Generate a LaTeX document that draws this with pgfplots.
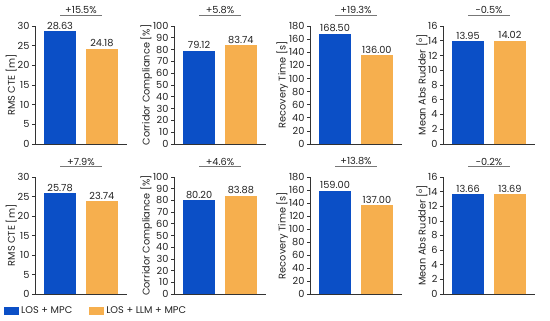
\documentclass[border=0pt]{standalone}
\usepackage{pgfplots}
\pgfplotsset{compat=1.18}
\usepackage{fontspec}
\setmainfont{Poppins}
\definecolor{cblue}{HTML}{0B4FC6}
\definecolor{corange}{HTML}{F6AF4E}
\definecolor{axc}{HTML}{333333}
\definecolor{txt}{HTML}{222222}
\definecolor{annc}{HTML}{777777}
\newcommand{\fs}{\fontsize{9.8}{11}\selectfont}
\pgfplotsset{
 panel/.style={
   scale only axis, width=92bp,
   xmin=-0.6, xmax=1.6, ymin=0,
   axis x line*=bottom, axis y line*=left,
   xtick=\empty,
   axis line style={axc, line width=0.6pt},
   ytick style={axc, line width=0.6pt},
   tick align=outside, major tick length=3bp,
   ybar, bar width=0.76,
   clip=false,
   tick label style={font=\fs, text=txt},
   yticklabel style={xshift=1bp},
   label style={font=\fs, text=txt},
   ylabel shift=-6bp,
   /pgf/number format/assume math mode=true,
   /pgf/number format/1000 sep={},
   nodes near coords={\pgfmathprintnumber[fixed,fixed zerofill,precision=2]{\pgfplotspointmeta}},
   nodes near coords style={font=\fs, text=txt, inner sep=1.5bp},
   anchor=south west,
 },
 toprow/.style={height=118bp},
 botrow/.style={height=117bp},
}
\tikzset{ann/.style={annc, line width=0.7pt}}
\newcommand{\annot}[1]{\draw[ann] (rel axis cs:0.2727,1.088) -- node[above, font=\fs, text=txt, inner sep=1.2bp] {#1} (rel axis cs:0.7273,1.088);}
\begin{document}
\begin{tikzpicture}
\useasboundingbox (0,0) rectangle (550bp,321bp);
% ---------- top row ----------
\begin{axis}[panel, toprow, at={(35bp,177bp)}, ymax=30, ytick={0,5,...,30}, ylabel={RMS CTE [m]}]
\addplot[fill=cblue, draw=none, bar shift=0pt] coordinates {(0,28.63)};
\addplot[fill=corange, draw=none, bar shift=0pt] coordinates {(1,24.18)};
\annot{+15.5\%}
\end{axis}
\begin{axis}[panel, toprow, at={(174bp,177bp)}, ymax=100, ytick={0,10,...,100}, ylabel={Corridor Compliance [\%]}]
\addplot[fill=cblue, draw=none, bar shift=0pt] coordinates {(0,79.12)};
\addplot[fill=corange, draw=none, bar shift=0pt] coordinates {(1,83.74)};
\annot{+5.8\%}
\end{axis}
\begin{axis}[panel, toprow, at={(310bp,177bp)}, ymax=180, ytick={0,20,...,180}, ylabel={Recovery Time [s]}]
\addplot[fill=cblue, draw=none, bar shift=0pt] coordinates {(0,168.50)};
\addplot[fill=corange, draw=none, bar shift=0pt] coordinates {(1,136.00)};
\annot{+19.3\%}
\end{axis}
\begin{axis}[panel, toprow, at={(443bp,177bp)}, ymax=16, ytick={0,2,...,16}, ylabel={Mean Abs Rudder [°]}]
\addplot[fill=cblue, draw=none, bar shift=0pt] coordinates {(0,13.95)};
\addplot[fill=corange, draw=none, bar shift=0pt] coordinates {(1,14.02)};
\annot{−0.5\%}
\end{axis}
% ---------- bottom row ----------
\begin{axis}[panel, botrow, at={(35bp,27bp)}, ymax=30, ytick={0,5,...,30}, ylabel={RMS CTE [m]},
  legend columns=2,
  legend style={at={(axis description cs:-0.337,-0.145)}, anchor=west, draw=none, fill=none, inner sep=0pt, font=\fs, text=txt,
    /tikz/every even column/.append style={column sep=15bp}},
  legend image code/.code={\fill[#1] (0bp,-4bp) rectangle (15bp,4bp);},
  legend cell align=left]
\addplot[fill=cblue, draw=none, bar shift=0pt] coordinates {(0,25.78)};
\addplot[fill=corange, draw=none, bar shift=0pt] coordinates {(1,23.74)};
\annot{+7.9\%}
\legend{LOS + MPC, LOS + LLM + MPC}
\end{axis}
\begin{axis}[panel, botrow, at={(174bp,27bp)}, ymax=100, ytick={0,10,...,100}, ylabel={Corridor Compliance [\%]}]
\addplot[fill=cblue, draw=none, bar shift=0pt] coordinates {(0,80.20)};
\addplot[fill=corange, draw=none, bar shift=0pt] coordinates {(1,83.88)};
\annot{+4.6\%}
\end{axis}
\begin{axis}[panel, botrow, at={(310bp,27bp)}, ymax=180, ytick={0,20,...,180}, ylabel={Recovery Time [s]}]
\addplot[fill=cblue, draw=none, bar shift=0pt] coordinates {(0,159.00)};
\addplot[fill=corange, draw=none, bar shift=0pt] coordinates {(1,137.00)};
\annot{+13.8\%}
\end{axis}
\begin{axis}[panel, botrow, at={(443bp,27bp)}, ymax=16, ytick={0,2,...,16}, ylabel={Mean Abs Rudder [°]}]
\addplot[fill=cblue, draw=none, bar shift=0pt] coordinates {(0,13.66)};
\addplot[fill=corange, draw=none, bar shift=0pt] coordinates {(1,13.69)};
\annot{−0.2\%}
\end{axis}
\end{tikzpicture}
\end{document}
